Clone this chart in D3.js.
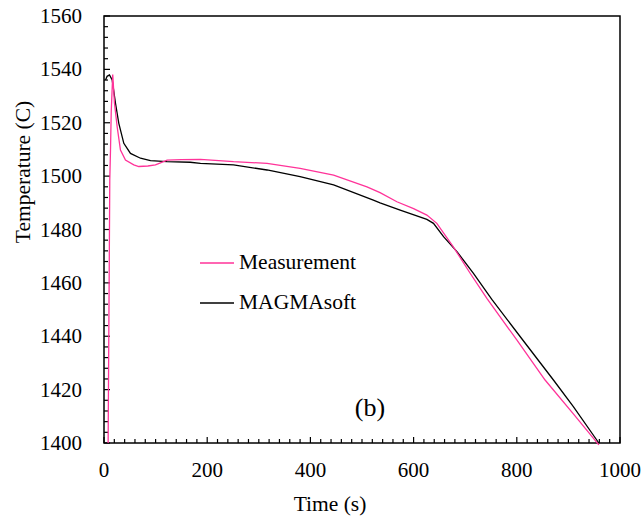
<!DOCTYPE html>
<html>
<head>
<meta charset="utf-8">
<script src="https://cdn.jsdelivr.net/npm/d3@7"></script>
<style>
  body { margin: 0; background: #fff; }
  svg { display: block; }
  text { font-family: "Liberation Serif", "Times New Roman", serif; fill: #000; }
</style>
</head>
<body>
<svg id="chart" width="644" height="520"></svg>
<script>
// Measured thermocouple trace: time (s) and temperature (C)
const measTime = [8, 11.2, 12.6, 14, 16.9, 20.3, 25.5, 31.9, 41.6, 57.7, 67.4, 85, 99.7, 109.4, 122.3, 150, 186.8, 251, 316, 380, 445, 509.6, 535, 567.6, 600, 625.7, 645, 677, 709.6, 742, 800, 854.8, 910, 959];
const measTemp = [1400, 1498.5, 1509.8, 1524, 1538.1, 1527.3, 1518.5, 1509.8, 1506.0, 1504.2, 1503.6, 1503.8, 1504.2, 1505.0, 1506.0, 1506.2, 1506.3, 1505.4, 1504.8, 1502.9, 1500.4, 1496.0, 1493.8, 1490.4, 1487.8, 1485.4, 1482.3, 1473.5, 1463.6, 1454.2, 1438.6, 1423.6, 1410.8, 1399.3];

// MAGMAsoft simulation
const simTime = [3, 6, 10.6, 15.9, 22.3, 28.7, 38.4, 51.3, 70.7, 90, 122, 167, 187, 251, 316, 380, 445, 522, 535, 574, 625.7, 638.5, 658, 684, 716, 751.6, 806, 871, 909.6, 959];
const simTemp = [1536, 1537.4, 1537.9, 1536, 1527.3, 1519.8, 1512.3, 1508.5, 1506.7, 1505.8, 1505.4, 1505.2, 1504.8, 1504.2, 1502.3, 1499.8, 1496.7, 1491, 1490, 1487.3, 1483.8, 1482.3, 1477.3, 1471.7, 1463.6, 1453.8, 1440, 1423.6, 1413.6, 1400];

const xTicks = [0, 200, 400, 600, 800, 1000];
const yTicks = [1400, 1420, 1440, 1460, 1480, 1500, 1520, 1540, 1560];

const seriesNames = ["Measurement", "MAGMAsoft"];
const seriesColors = ["#ff3399", "#000000"];

const svg = d3.select("#chart");
const plotLeft = 104, plotRight = 620, plotTop = 16, plotBottom = 443;

const x = d3.scaleLinear().domain([0, 1000]).range([plotLeft, plotRight]);
const y = d3.scaleLinear().domain([1400, 1560]).range([plotBottom, plotTop]);

// frame
svg.append("rect")
  .attr("x", plotLeft).attr("y", plotTop)
  .attr("width", plotRight - plotLeft).attr("height", plotBottom - plotTop)
  .attr("fill", "none").attr("stroke", "#000").attr("stroke-width", 1.5);

// ticks (inside), longer at labelled values
const g = svg.append("g").attr("stroke", "#000").attr("stroke-width", 1.2);
d3.range(0, 1001, 20).forEach(v => {
  const len = v % 200 === 0 ? 6 : 4;
  g.append("line").attr("x1", x(v)).attr("x2", x(v)).attr("y1", plotBottom).attr("y2", plotBottom - len);
});
d3.range(1400, 1561, 4).forEach(v => {
  const len = v % 20 === 0 ? 6 : 4;
  g.append("line").attr("x1", plotLeft).attr("x2", plotLeft + len).attr("y1", y(v)).attr("y2", y(v));
});

// tick labels
svg.append("g").selectAll("text").data(xTicks).join("text")
  .attr("x", d => x(d)).attr("y", 477)
  .attr("text-anchor", "middle").attr("font-size", 21)
  .text(d => d);
svg.append("g").selectAll("text").data(yTicks).join("text")
  .attr("x", 82).attr("y", d => y(d) + 7)
  .attr("text-anchor", "end").attr("font-size", 21)
  .text(d => d);

// axis titles
svg.append("text").attr("x", 330).attr("y", 511)
  .attr("text-anchor", "middle").attr("font-size", 21.5).text("Time  (s)");
svg.append("text")
  .attr("transform", "translate(30,172) rotate(-90)")
  .attr("text-anchor", "middle").attr("font-size", 21.5).text("Temperature  (C)");

// curves
const line = d3.line().x(d => x(d[0])).y(d => y(d[1]));
const simData = simTime.map((t, i) => [t, simTemp[i]]);
const measData = measTime.map((t, i) => [t, measTemp[i]]);

svg.append("path").datum(simData)
  .attr("d", line).attr("fill", "none")
  .attr("stroke", seriesColors[1]).attr("stroke-width", 1.3);
svg.append("path").datum(measData)
  .attr("d", line).attr("fill", "none")
  .attr("stroke", seriesColors[0]).attr("stroke-width", 1.3);

// legend
const legend = svg.append("g");
seriesNames.forEach((name, i) => {
  const ly = 263 + i * 40;
  legend.append("line").attr("x1", 200).attr("x2", 234).attr("y1", ly).attr("y2", ly)
    .attr("stroke", seriesColors[i]).attr("stroke-width", 1.3);
  legend.append("text").attr("x", 239).attr("y", ly + 6).attr("font-size", 21.5).text(name);
});

// panel label
svg.append("text").attr("x", 370).attr("y", 416)
  .attr("text-anchor", "middle").attr("font-size", 26).text("(b)");
</script>
</body>
</html>
